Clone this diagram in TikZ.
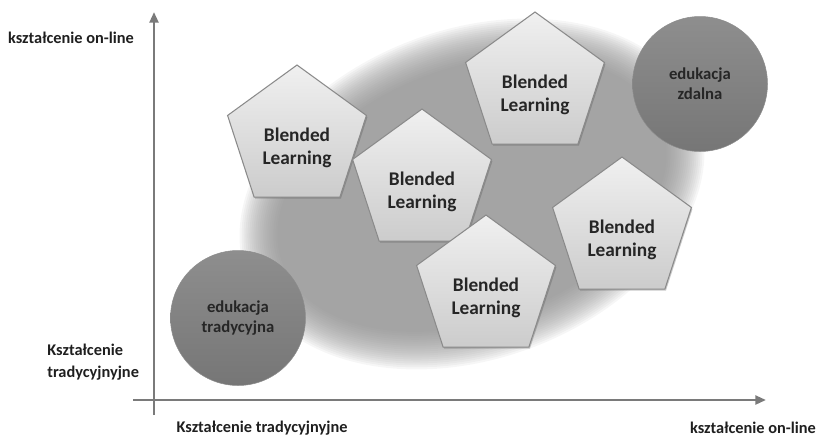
\documentclass[tikz,border=0pt]{standalone}
\usepackage{fontspec}
\setmainfont{Carlito}
\usetikzlibrary{shapes.geometric, arrows.meta, shadows}

\definecolor{axisgray}{HTML}{7A7A7A}
\definecolor{blobgray}{HTML}{8C8C8C}
\definecolor{pentop}{HTML}{F0F0F0}
\definecolor{penbot}{HTML}{CCCCCC}
\definecolor{pendraw}{HTML}{8A8A8A}
\definecolor{edutop}{HTML}{8E8E8E}
\definecolor{edubot}{HTML}{767676}

\tikzset{
  axis/.style={draw=axisgray, line width=1.4pt, -{Triangle[length=6pt, width=5pt]}},
  axislabel/.style={font=\fontsize{9.3}{12.5}\selectfont\bfseries, text=black!88, inner sep=0pt},
  edu/.style={circle, minimum size=2.7cm, top color=edutop, bottom color=edubot, draw=black!45, line width=0.3pt,
    font=\fontsize{9.5}{11.5}\selectfont\bfseries, align=center, text=black!85},
  bltext/.style={font=\fontsize{11}{13}\selectfont\bfseries, align=center, text=black!85, yshift=-0.2cm},
  blended/.style={regular polygon, regular polygon sides=5, minimum size=2.92cm, inner sep=0pt,
    top color=pentop, bottom color=penbot, draw=pendraw, line width=0.6pt,
    drop shadow={shadow xshift=0.6pt, shadow yshift=-0.9pt, opacity=0.3, fill=black!70},
    label={[bltext]center:Blended\\Learning}}
}

\begin{document}
\begin{tikzpicture}[x=0.02cm, y=-0.02cm]
  \useasboundingbox (0,0) rectangle (818,437);

  % background cloud, stacked faint ellipses for a soft edge
  \begin{scope}[shift={(472,194)}, rotate=20]
    \foreach \k in {0,...,19}
      \fill[blobgray, opacity=0.075] (0,0) ellipse [x radius={4.8cm-\k*0.04cm}, y radius={3.3cm-\k*0.04cm}];
  \end{scope}

  % axes
  \coordinate (ybot) at (154,415);
  \coordinate (ytop) at (154,12);
  \coordinate (xleft) at (133,400);
  \coordinate (xright) at (766,400);
  \draw[axis] (ybot) -- (ytop);
  \draw[axis] (xleft) -- (xright);

  % axis labels
  \node[axislabel] (ontop) at (71,38) {kształcenie on-line};
  \node[axislabel, anchor=west, align=left] (tradleft) at (47,362) {Kształcenie\\tradycyjnyjne};
  \node[axislabel] (tradbot) at (262,428) {Kształcenie tradycyjnyjne};
  \node[axislabel] (onright) at (753,428) {kształcenie on-line};

  % corner circles
  \node[edu] (trad) at (238,318) {edukacja\\tradycyjna};
  \node[edu] (zdalna) at (700,84) {edukacja\\zdalna};

  % blended learning pentagons
  \foreach \n/\x/\y in {1/297/138, 2/422/182, 3/535/85, 4/486/288, 5/622/230}
    \node[blended] (bl\n) at (\x,\y) {};
\end{tikzpicture}
\end{document}
